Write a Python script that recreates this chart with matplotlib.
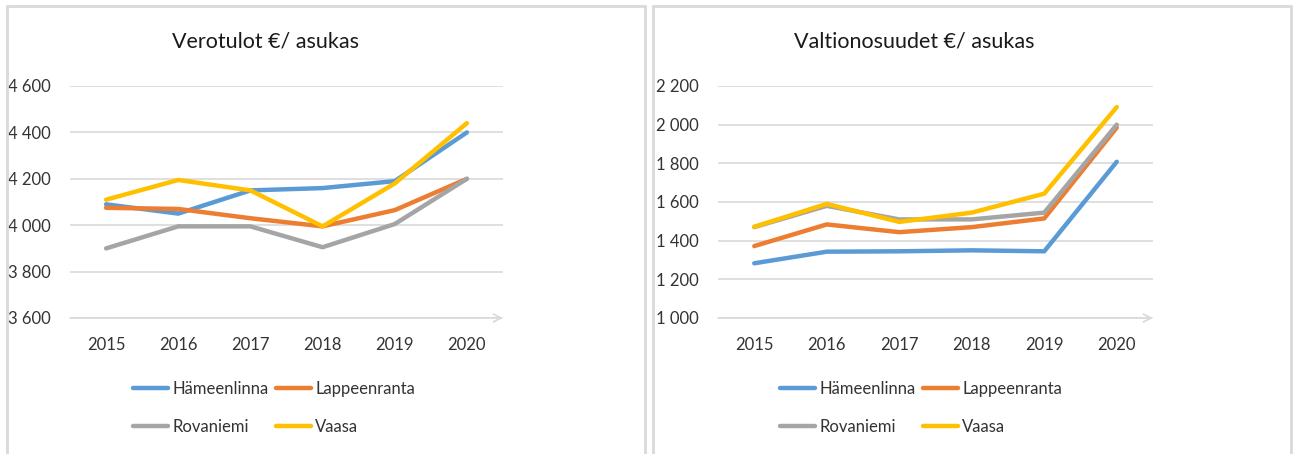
import matplotlib
matplotlib.use('Agg')
import matplotlib.pyplot as plt
from matplotlib.patches import Rectangle

# data
years = ['2015', '2016', '2017', '2018', '2019', '2020']
cities = ['Hämeenlinna', 'Lappeenranta', 'Rovaniemi', 'Vaasa']
colors = ['#5B9BD5', '#ED7D31', '#A5A5A5', '#FFC000']

# Verotulot €/ asukas
vero_hml = [4090, 4050, 4150, 4160, 4190, 4400]
vero_lpr = [4075, 4070, 4030, 3995, 4065, 4200]
vero_rov = [3900, 3995, 3995, 3905, 4005, 4200]
vero_vaa = [4110, 4195, 4150, 3995, 4180, 4440]

# Valtionosuudet €/ asukas
valt_hml = [1283, 1343, 1345, 1350, 1345, 1808]
valt_lpr = [1372, 1484, 1444, 1470, 1515, 1985]
valt_rov = [1470, 1580, 1510, 1510, 1545, 2000]
valt_vaa = [1472, 1590, 1497, 1545, 1643, 2091]

plt.rcParams['font.family'] = ['Lato', 'DejaVu Sans']

W, H = 1294, 454
fig = plt.figure(figsize=(W / 100, H / 100), dpi=100)

def fx(px):
    return px / W

def fy(py):
    return 1 - py / H

# panel frames
for x0, x1 in [(7, 645), (653, 1291)]:
    fig.patches.append(Rectangle((fx(x0), fy(470)), fx(x1 - x0), (470 - 6) / H,
                                 transform=fig.transFigure, fill=False,
                                 edgecolor='#d9d9d9', linewidth=2))

def fmt(v):
    return '{:,}'.format(int(v)).replace(',', ' ')

def draw(left_px, right_px, title, title_x, series, ylo, yhi, leg_x):
    ax = fig.add_axes([fx(left_px), fy(318), fx(right_px - left_px), (318 - 86) / H])
    xs = range(len(years))
    for vals, name, c in zip(series, cities, colors):
        ax.plot(xs, vals, color=c, linewidth=3.2, label=name, solid_capstyle='round')
    ax.set_xlim(-0.5, len(years) - 0.5)
    ax.set_ylim(ylo, yhi)
    ticks = list(range(ylo, yhi + 1, 200))
    ax.set_yticks(ticks)
    ax.set_yticklabels([fmt(t) for t in ticks])
    ax.set_xticks(list(xs))
    ax.set_xticklabels(years)
    ax.grid(axis='y', color='#d9d9d9', linewidth=1.2)
    ax.set_axisbelow(True)
    for s in ax.spines.values():
        s.set_visible(False)
    ax.tick_params(length=0, labelsize=12, colors='#333333')
    ax.tick_params(axis='y', pad=14)
    ax.tick_params(axis='x', pad=14)
    ax.annotate('', xy=(1.0, 0), xytext=(0, 0), xycoords='axes fraction',
                arrowprops=dict(arrowstyle='->', color='#d9d9d9', lw=1.2,
                                shrinkA=0, shrinkB=0, mutation_scale=14))
    fig.text(fx(title_x), fy(42), title, ha='center', va='center',
             fontsize=15.5, color='#1a1a1a')
    h, l = ax.get_legend_handles_labels()
    # row-wise order: Hämeenlinna, Lappeenranta / Rovaniemi, Vaasa
    order = [0, 2, 1, 3]
    fig.legend([h[i] for i in order], [l[i] for i in order], loc='center left',
               bbox_to_anchor=(fx(leg_x), fy(408)), ncol=2, borderpad=0,
               borderaxespad=0, frameon=False, fontsize=12, handlelength=2.1,
               handletextpad=0.25, columnspacing=0.45, labelspacing=1.35,
               labelcolor='#333333')
    return ax

draw(70, 503, 'Verotulot €/ asukas', 265,
     [vero_hml, vero_lpr, vero_rov, vero_vaa], 3600, 4600, 133)
draw(718, 1153, 'Valtionosuudet €/ asukas', 914,
     [valt_hml, valt_lpr, valt_rov, valt_vaa], 1000, 2200, 780)

fig.savefig('out.png', dpi=100)
